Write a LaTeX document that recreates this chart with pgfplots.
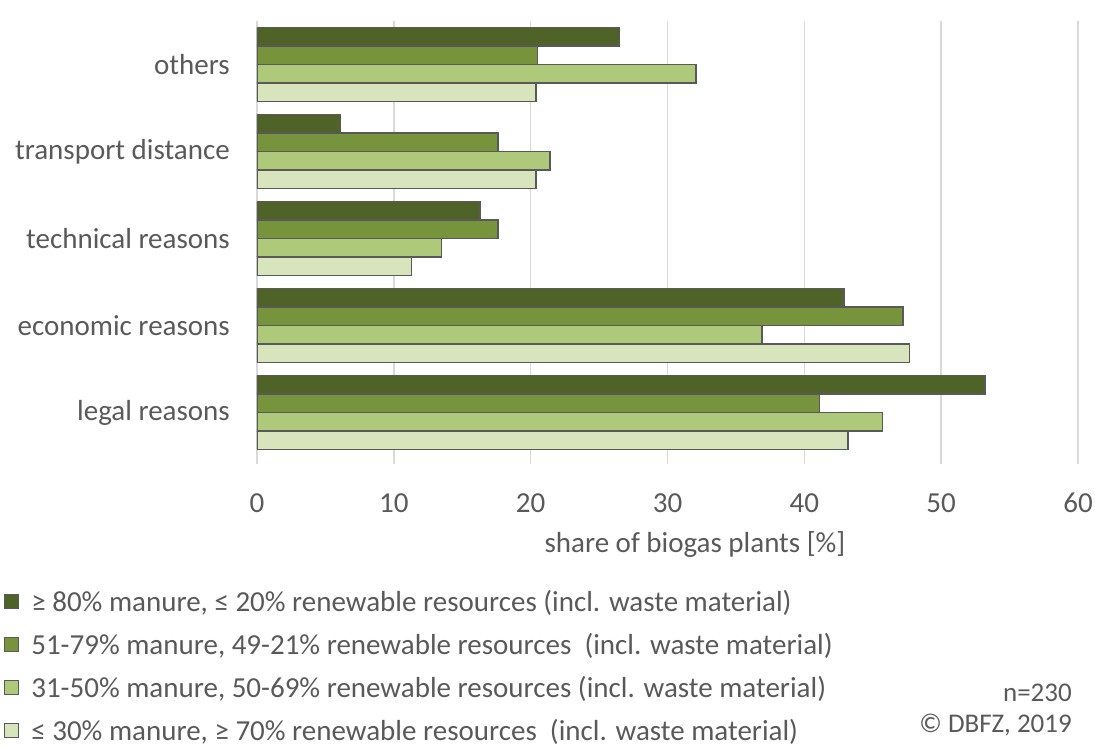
\documentclass[border=0pt]{standalone}
\usepackage{fontspec}
\setmainfont{Carlito}
\usepackage{pgfplots}
\pgfplotsset{compat=1.18}

\definecolor{txt}{HTML}{595959}
\definecolor{gridc}{HTML}{D9D9D9}
\definecolor{edge}{HTML}{595959}
\definecolor{gA}{HTML}{4F6228}
\definecolor{gB}{HTML}{77933C}
\definecolor{gC}{HTML}{AFC97B}
\definecolor{gD}{HTML}{D8E4BC}

\pgfplotsset{
  legsq/.style={legend image code/.code={\draw[##1, line width=1pt] (0pt,-4pt) rectangle (14pt,10pt);}},
  barstyle/.style={draw=edge, line width=1.5pt},
}

\begin{document}
\begin{tikzpicture}[x=1pt, y=1pt, font=\fontsize{29}{35}\selectfont]
\path[use as bounding box] (0,0) rectangle (1095,-747);
\begin{axis}[
  at={(257pt,-464pt)}, anchor=south west,
  scale only axis, width=821pt, height=443pt,
  xbar, bar width=18.4pt,
  xmin=0, xmax=60, ymin=-0.592, ymax=4.5,
  axis line style={draw=none},
  xtick={0,10,...,60},
  ytick={0,1,2,3,4},
  yticklabels={legal reasons, economic reasons, technical reasons, transport distance, others},
  major tick length=0pt,
  xmajorgrids, grid style={color=gridc, line width=1.5pt},
  /pgf/number format/assume math mode=true,
  xticklabel style={text=txt, anchor=center, inner sep=0pt, yshift=-39pt},
  yticklabel style={text=txt, anchor=east, inner sep=0pt, xshift=-27pt},
  xlabel={share of biogas plants [\%]},
  xlabel style={at={(axis description cs:0.5335,-0.1828)}, anchor=center, text=txt},
  legend cell align=left,
  legend style={at={(axis description cs:-0.308,-0.287)}, anchor=north west,
    draw=none, fill=none, inner sep=0pt, row sep=16pt, column sep=12pt,
    nodes={inner sep=0pt, text height=20pt, text depth=7pt, text=txt}},
]
\addplot[barstyle, fill=gA, bar shift=27.6pt, legsq] coordinates {(53.2,0) (42.9,1) (16.3,2) (6.1,3) (26.5,4)};
\addplot[barstyle, fill=gB, bar shift=9.2pt, legsq] coordinates {(41.1,0) (47.2,1) (17.6,2) (17.6,3) (20.5,4)};
\addplot[barstyle, fill=gC, bar shift=-9.2pt, legsq] coordinates {(45.7,0) (36.9,1) (13.5,2) (21.4,3) (32.1,4)};
\addplot[barstyle, fill=gD, bar shift=-27.6pt, legsq] coordinates {(43.2,0) (47.7,1) (11.3,2) (20.4,3) (20.4,4)};
\legend{{≥ 80\% manure, ≤ 20\% renewable resources (incl. waste material)},
        {51-79\% manure, 49-21\% renewable resources\ \ (incl. waste material)},
        {31-50\% manure, 50-69\% renewable resources (incl. waste material)},
        {≤ 30\% manure, ≥ 70\% renewable resources\ \ (incl. waste material)}}
\end{axis}
\node[anchor=east, text=txt, inner sep=0pt, font=\fontsize{27}{32}\selectfont] at (1072,-693) {n=230};
\node[anchor=east, text=txt, inner sep=0pt, font=\fontsize{27}{32}\selectfont] at (1072,-725) {© DBFZ, 2019};
\end{tikzpicture}
\end{document}
